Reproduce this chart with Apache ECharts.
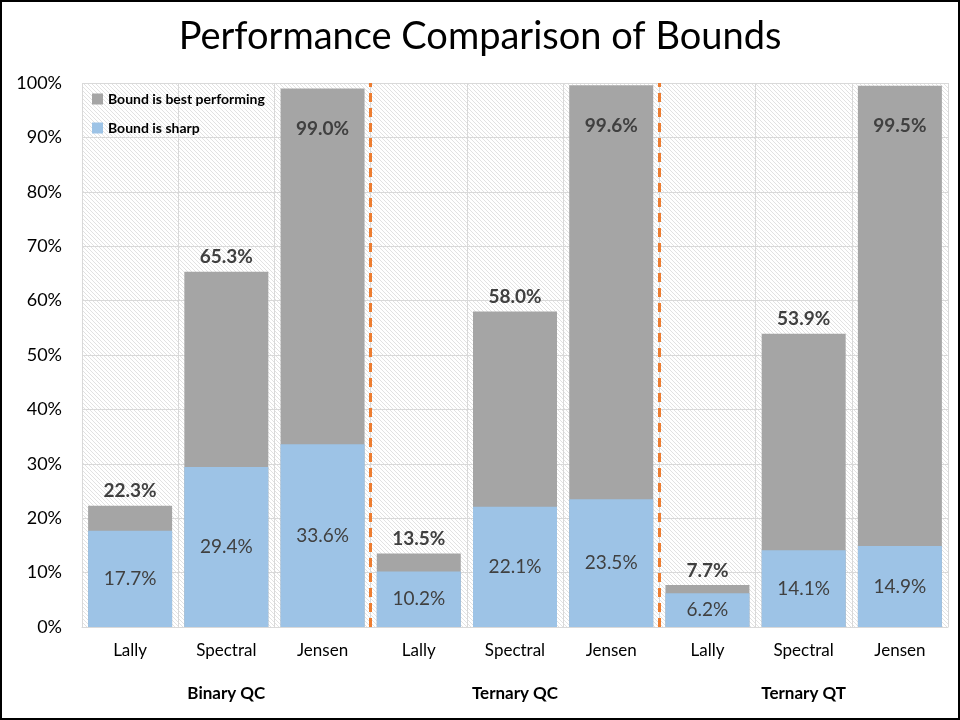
<!DOCTYPE html>
<html>
<head>
<meta charset="utf-8">
<script src="https://cdn.jsdelivr.net/npm/echarts@6/dist/echarts.min.js"></script>
<style>
  html, body { margin: 0; padding: 0; background: #fff; }
  #main { width: 960px; height: 720px; }
</style>
</head>
<body>
<div id="main"></div>
<script>
// data
const methods = ['Lally', 'Spectral', 'Jensen', 'Lally', 'Spectral', 'Jensen', 'Lally', 'Spectral', 'Jensen'];
const groups = ['Binary QC', 'Ternary QC', 'Ternary QT'];
const bestPerforming = [22.3, 65.3, 99.0, 13.5, 58.0, 99.6, 7.7, 53.9, 99.5];
const sharp = [17.7, 29.4, 33.6, 10.2, 22.1, 23.5, 6.2, 14.1, 14.9];
const groupBorders = [3, 6];

const font = 'Lato, "Open Sans", sans-serif';

// hatched plot background
const hatch = document.createElement('canvas');
hatch.width = 4;
hatch.height = 4;
const hctx = hatch.getContext('2d');
hctx.fillStyle = '#ffffff';
hctx.fillRect(0, 0, 4, 4);
hctx.strokeStyle = '#e2e2e2';
hctx.lineWidth = 1;
hctx.beginPath();
hctx.moveTo(-1, -1); hctx.lineTo(5, 5);
hctx.moveTo(-3, 1); hctx.lineTo(3, 7);
hctx.moveTo(1, -3); hctx.lineTo(7, 3);
hctx.stroke();

const chart = echarts.init(document.getElementById('main'));

const option = {
    animation: false,
    backgroundColor: '#fff',
    textStyle: { fontFamily: font },
    title: {
        text: 'Performance Comparison of Bounds',
        left: 'center',
        top: 13,
        textStyle: { fontFamily: font, fontSize: 38, fontWeight: 'normal', color: '#000' }
    },
    legend: {
        orient: 'vertical',
        left: 87,
        top: 87,
        itemWidth: 11,
        itemHeight: 11,
        itemGap: 15,
        icon: 'rect',
        textStyle: { fontFamily: font, fontSize: 14, fontWeight: 'bold', color: '#000' },
        data: ['Bound is best performing', 'Bound is sharp']
    },
    grid: {
        left: 82,
        right: 12,
        top: 83,
        bottom: 93,
        show: true,
        borderWidth: 0,
        backgroundColor: { image: hatch, repeat: 'repeat' }
    },
    xAxis: [
        {
            type: 'category',
            data: methods,
            axisLine: { show: true, lineStyle: { color: '#d9d9d9' } },
            axisTick: { show: false },
            splitLine: { show: true, lineStyle: { color: '#d9d9d9' } },
            axisLabel: { fontFamily: font, fontSize: 17, color: '#000', margin: 15 }
        },
        {
            type: 'category',
            data: groups,
            position: 'bottom',
            offset: 50,
            axisLine: { show: false },
            axisTick: { show: false },
            axisLabel: { fontFamily: font, fontSize: 17, fontWeight: 'bold', color: '#000', margin: 8 }
        },
        {
            type: 'value',
            min: 0,
            max: methods.length,
            show: false
        }
    ],
    yAxis: {
        type: 'value',
        min: 0,
        max: 100,
        interval: 10,
        axisLine: { show: false },
        axisTick: { show: false },
        splitLine: { lineStyle: { color: '#d9d9d9' } },
        axisLabel: { fontFamily: font, fontSize: 18, color: '#000', margin: 20, formatter: '{value}%' }
    },
    series: [
        {
            name: 'Bound is best performing',
            type: 'bar',
            barWidth: 84,
            barGap: '-100%',
            itemStyle: { color: '#a5a5a5' },
            data: bestPerforming.map(v => ({
                value: v,
                label: v > 95
                    ? { position: 'insideTop', distance: 31 }
                    : { position: 'top', distance: 5 }
            })),
            label: {
                show: true,
                fontFamily: font,
                fontSize: 19,
                fontWeight: 'bold',
                color: '#404040',
                formatter: p => p.value.toFixed(1) + '%'
            }
        },
        {
            name: 'Bound is sharp',
            type: 'bar',
            barWidth: 84,
            barGap: '-100%',
            itemStyle: { color: '#9dc3e6' },
            data: sharp,
            label: {
                show: true,
                position: 'inside',
                fontFamily: font,
                fontSize: 19,
                color: '#404040',
                formatter: p => p.value.toFixed(1) + '%'
            }
        },
        {
            type: 'scatter',
            xAxisIndex: 2,
            data: [],
            silent: true,
            markLine: {
                symbol: 'none',
                silent: true,
                label: { show: false },
                lineStyle: { color: '#ed7d31', width: 3, type: [9, 6] },
                data: groupBorders.map(b => ({ xAxis: b }))
            }
        }
    ],
    graphic: [{
        type: 'rect',
        shape: { x: 1, y: 1, width: 958, height: 718 },
        style: { fill: 'none', stroke: '#000', lineWidth: 2 },
        silent: true,
        z: 100
    }]
};

chart.setOption(option);
</script>
</body>
</html>
